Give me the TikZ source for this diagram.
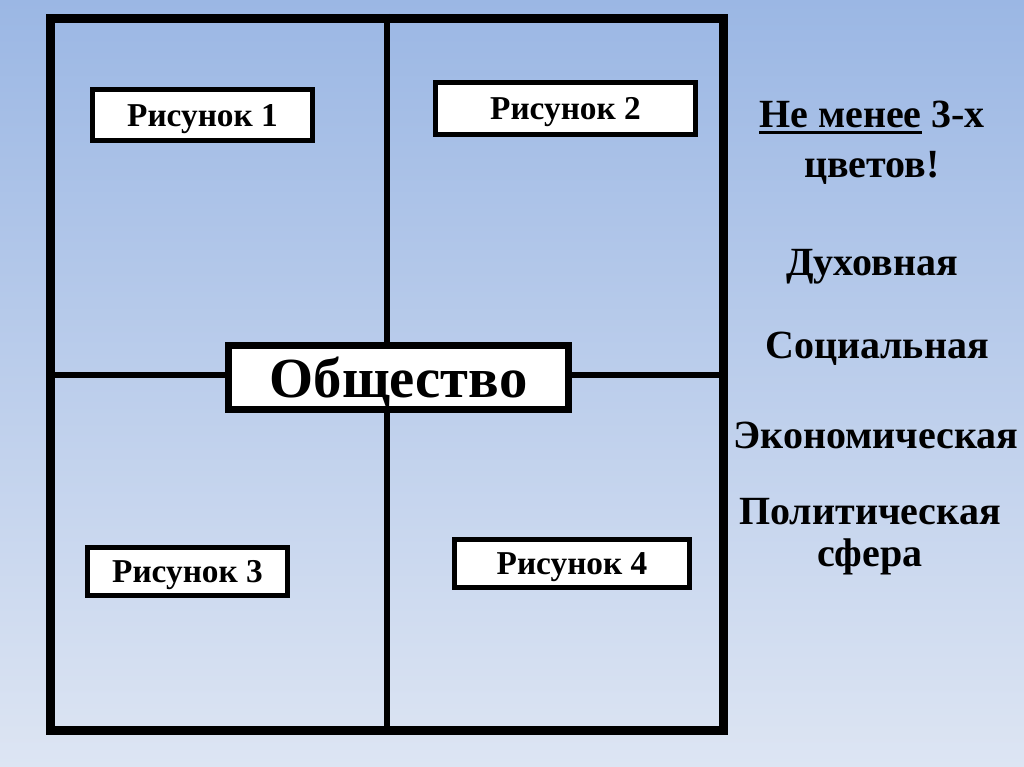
\documentclass[tikz,border=0pt]{standalone}
\usepackage{fontspec}
\setmainfont{Liberation Serif}
\usepackage{tikz}
\usetikzlibrary{positioning}
\definecolor{bgtop}{RGB}{155,183,228}
\definecolor{bgbot}{RGB}{221,229,243}
\newcommand{\thickul}[1]{\setbox0\hbox{#1}\rlap{\rule[-4.5pt]{\wd0}{2pt}}\box0\relax}
\tikzset{
  bigframe/.style={draw=black, line width=6.75pt, minimum width=505pt, minimum height=534pt, inner sep=0pt},
  crossline/.style={draw=black, line width=4.5pt},
  picbox/.style={draw=black, line width=3.75pt, fill=white, inner sep=0pt, text depth=0pt,
    font=\fontsize{25}{29}\selectfont\bfseries},
  mainbox/.style={draw=black, line width=5.25pt, fill=white, inner sep=0pt, text depth=0pt,
    minimum width=255pt, minimum height=48pt, font=\fontsize{42.5}{48}\selectfont\bfseries},
  sidetext/.style={anchor=base, align=center, inner sep=0pt,
    font=\fontsize{30}{37}\selectfont\bfseries}
}

\begin{document}
\begin{tikzpicture}[x=0.75pt, y=-0.75pt]
  \useasboundingbox (0,0) rectangle (1024,767);
  \fill[top color=bgtop, bottom color=bgbot] (0,0) rectangle (1024,767);

  % frame split in four
  \node[bigframe] (frame) at (387.25,374.5) {};
  \draw[crossline] (frame.north) -- (frame.south);
  \draw[crossline] (frame.west) -- (frame.east);

  \node[mainbox] (soc) at (398.5,377.5) {Общество};

  \node[picbox, minimum width=165pt, minimum height=38.25pt] (pic1) at (202.5,115) {Рисунок 1};
  \node[picbox, minimum width=195pt, minimum height=39pt] (pic2) at (565.5,108.5) {Рисунок 2};
  \node[picbox, minimum width=150pt, minimum height=36pt] (pic3) at (187.5,571.5) {Рисунок 3};
  \node[picbox, minimum width=176.25pt, minimum height=36pt] (pic4) at (572,563.5) {Рисунок 4};

  % spheres on the right (base = last line)
  \node[sidetext] (note) at (872,177) {\thickul{Не менее} 3-х\\цветов!};
  \node[sidetext] (spirit) at (872,275) {Духовная};
  \node[sidetext] (social) at (877,358) {Социальная};
  \node[sidetext] (econ) at (876,448) {Экономическая};
  \node[sidetext, font=\fontsize{30}{31}\selectfont\bfseries] (polit) at (870,566) {Политическая\\сфера};
\end{tikzpicture}
\end{document}
